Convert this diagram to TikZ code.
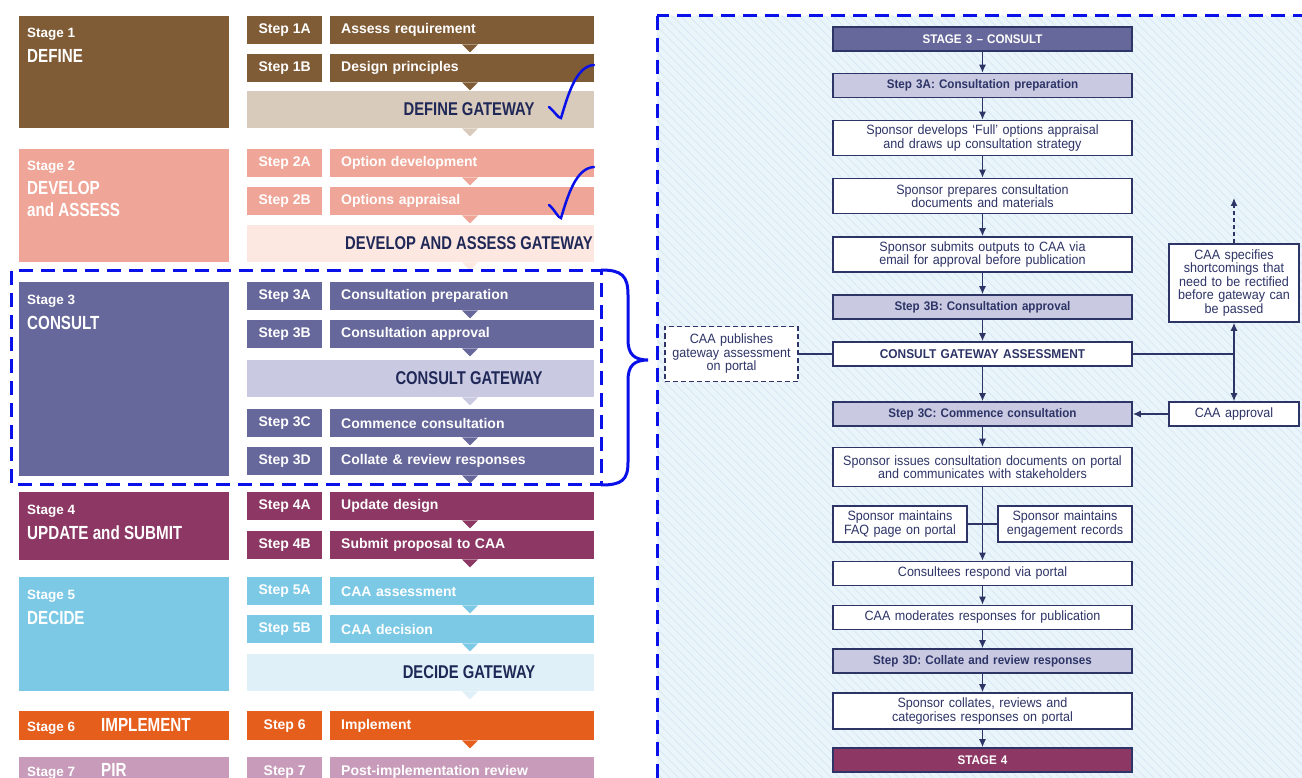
\documentclass[tikz,border=0pt]{standalone}
\usepackage{fontspec}
\setmainfont{Liberation Sans}
\newfontfamily\headfont[FakeStretch=0.8]{Liberation Sans}
\newfontfamily\panelfont[FakeStretch=0.93]{Liberation Sans}
\usetikzlibrary{shapes,arrows.meta,patterns.meta}

\definecolor{defbrown}{HTML}{7F5B36}
\definecolor{defgate}{HTML}{D9CBBC}
\definecolor{devpink}{HTML}{EFA597}
\definecolor{devgate}{HTML}{FCE7E1}
\definecolor{conpurple}{HTML}{66679A}
\definecolor{congate}{HTML}{C9CAE2}
\definecolor{updplum}{HTML}{8D3864}
\definecolor{decsky}{HTML}{7CC9E6}
\definecolor{decgate}{HTML}{DFF0F8}
\definecolor{imporange}{HTML}{E65E1B}
\definecolor{pirmauve}{HTML}{C79BB9}
\definecolor{gatenavy}{HTML}{1F2857}
\definecolor{linenavy}{HTML}{2D3466}
\definecolor{markblue}{HTML}{0A10E8}
\definecolor{panelbg}{HTML}{EAF4FB}
\definecolor{hatch}{HTML}{D6E7F3}

\tikzstyle{stage} = [rectangle, anchor=north west, minimum width=210, inner sep=0pt]
\tikzstyle{stagenum} = [anchor=base west, inner sep=0pt, text=white,
font=\fontsize{13.5}{15}\selectfont\bfseries]
\tikzstyle{stagename} = [anchor=base west, inner sep=0pt, text=white, align=left,
font=\headfont\fontsize{19}{22}\selectfont\bfseries]
\tikzstyle{steplbl} = [rectangle, anchor=north west, minimum width=75, minimum height=28,
inner sep=0pt, text=white, font=\fontsize{14}{16}\selectfont\bfseries]
\tikzstyle{steptxt} = [rectangle, anchor=north west, minimum width=264, minimum height=28,
inner xsep=11, inner ysep=0pt, text width=242, align=left, text=white,
font=\fontsize{14}{16}\selectfont\bfseries]
\tikzstyle{gateway} = [rectangle, anchor=north west, minimum width=347, minimum height=37, inner sep=0pt]
\tikzstyle{gatetxt} = [inner sep=0pt, text=gatenavy, font=\headfont\fontsize{18.5}{22}\selectfont\bfseries]
\tikzstyle{panelbox} = [rectangle, draw=linenavy, line width=1.6, fill=white, text=linenavy,
text width=295, inner xsep=2, inner ysep=2, align=center, minimum height=24,
font=\panelfont\fontsize{13.5}{13.5}\selectfont]
\tikzstyle{stepbox} = [panelbox, fill=congate, font=\panelfont\fontsize{12.5}{13.5}\selectfont\bfseries]
\tikzstyle{stagebox} = [panelbox, fill=conpurple, text=white, font=\panelfont\fontsize{12.5}{13.5}\selectfont\bfseries]
\tikzstyle{line} = [draw=linenavy, line width=1.3, -{Latex[length=8pt,width=7pt]}]
\tikzstyle{plain} = [draw=linenavy, line width=1.3]

\newcommand{\steptip}[2]{\fill[#2] (#1.south -| tipx) ++(-8,0) -- ++(16,0) -- ++(-8,8) -- cycle;}

\begin{document}
\begin{tikzpicture}[x=1pt, y=-1pt]
\clip (0,0) rectangle (1302,778);
\fill [white] (0,0) rectangle (1302,778);
\coordinate (tipx) at (470,0);

% Stage 1
\node [stage, fill=defbrown, minimum height=112] (stage1) at (19,16) {};
\node [stagenum] (stage1n) at (27,38) {Stage 1};
\node [stagename] (stage1m) at (27,63) {DEFINE};
\node [steplbl, fill=defbrown] (step1a) at (247,16) {Step 1A};
\node [steptxt, fill=defbrown] (task1a) at (330,16) {Assess requirement};
\node [steplbl, fill=defbrown] (step1b) at (247,54) {Step 1B};
\node [steptxt, fill=defbrown] (task1b) at (330,54) {Design principles};
\node [gateway, fill=defgate] (gate1) at (247,91) {};
\node [gatetxt] (gate1t) at (469,109.5) {DEFINE GATEWAY};
\steptip{task1a}{defbrown}
\steptip{task1b}{defbrown}
\steptip{gate1}{defgate}

% Stage 2
\node [stage, fill=devpink, minimum height=113] (stage2) at (19,149) {};
\node [stagenum] (stage2n) at (27,171) {Stage 2};
\node [stagename] (stage2m) at (27,217) {DEVELOP\\and ASSESS};
\node [steplbl, fill=devpink] (step2a) at (247,149) {Step 2A};
\node [steptxt, fill=devpink] (task2a) at (330,149) {Option development};
\node [steplbl, fill=devpink] (step2b) at (247,187) {Step 2B};
\node [steptxt, fill=devpink] (task2b) at (330,187) {Options appraisal};
\node [gateway, fill=devgate] (gate2) at (247,225) {};
\node [gatetxt] (gate2t) at (469,243.5) {DEVELOP AND ASSESS GATEWAY};
\steptip{task2a}{devpink}
\steptip{task2b}{devpink}
\steptip{gate2}{devgate}

% Stage 3
\node [stage, fill=conpurple, minimum height=194] (stage3) at (19,282) {};
\node [stagenum] (stage3n) at (27,305) {Stage 3};
\node [stagename] (stage3m) at (27,329) {CONSULT};
\node [steplbl, fill=conpurple] (step3a) at (247,282) {Step 3A};
\node [steptxt, fill=conpurple] (task3a) at (330,282) {Consultation preparation};
\node [steplbl, fill=conpurple] (step3b) at (247,320) {Step 3B};
\node [steptxt, fill=conpurple] (task3b) at (330,320) {Consultation approval};
\node [gateway, fill=congate] (gate3) at (247,360) {};
\node [gatetxt] (gate3t) at (469,378.5) {CONSULT GATEWAY};
\node [steplbl, fill=conpurple] (step3c) at (247,409) {Step 3C};
\node [steptxt, fill=conpurple] (task3c) at (330,409) {Commence consultation};
\node [steplbl, fill=conpurple] (step3d) at (247,447) {Step 3D};
\node [steptxt, fill=conpurple] (task3d) at (330,447) {Collate \& review responses};
\steptip{task3a}{conpurple}
\steptip{task3b}{conpurple}
\steptip{gate3}{congate}
\steptip{task3c}{conpurple}
\steptip{task3d}{conpurple}

% Stage 4
\node [stage, fill=updplum, minimum height=68] (stage4) at (19,492) {};
\node [stagenum] (stage4n) at (27,514) {Stage 4};
\node [stagename] (stage4m) at (27,539) {UPDATE and SUBMIT};
\node [steplbl, fill=updplum] (step4a) at (247,492) {Step 4A};
\node [steptxt, fill=updplum] (task4a) at (330,492) {Update design};
\node [steplbl, fill=updplum] (step4b) at (247,531) {Step 4B};
\node [steptxt, fill=updplum] (task4b) at (330,531) {Submit proposal to CAA};
\steptip{task4a}{updplum}
\steptip{task4b}{updplum}

% Stage 5
\node [stage, fill=decsky, minimum height=114] (stage5) at (19,577) {};
\node [stagenum] (stage5n) at (27,599) {Stage 5};
\node [stagename] (stage5m) at (27,624) {DECIDE};
\node [steplbl, fill=decsky] (step5a) at (247,577) {Step 5A};
\node [steptxt, fill=decsky] (task5a) at (330,577) {CAA assessment};
\node [steplbl, fill=decsky] (step5b) at (247,615) {Step 5B};
\node [steptxt, fill=decsky] (task5b) at (330,615) {CAA decision};
\node [gateway, fill=decgate] (gate5) at (247,654) {};
\node [gatetxt] (gate5t) at (469,672.5) {DECIDE GATEWAY};
\steptip{task5a}{decsky}
\steptip{task5b}{decsky}
\steptip{gate5}{decgate}

% Stage 6 and 7
\node [stage, fill=imporange, minimum height=29] (stage6) at (19,711) {};
\node [stagenum] (stage6n) at (27,731) {Stage 6};
\node [stagename] (stage6m) at (101,731) {IMPLEMENT};
\node [steplbl, fill=imporange, minimum height=29] (step6) at (247,711) {Step 6};
\node [steptxt, fill=imporange, minimum height=29] (task6) at (330,711) {Implement};
\steptip{task6}{imporange}
\node [stage, fill=pirmauve, minimum height=29] (stage7) at (19,757) {};
\node [stagenum] (stage7n) at (27,776) {Stage 7};
\node [stagename] (stage7m) at (101,776) {PIR};
\node [steplbl, fill=pirmauve, minimum height=29] (step7) at (247,757) {Step 7};
\node [steptxt, fill=pirmauve, minimum height=29] (task7) at (330,757) {Post-implementation review};

% Marks
\draw [markblue, line width=2.5, line cap=round] (549,107) .. controls (555,112) and (558,118) .. (561,118)
  .. controls (568,95) and (576,66) .. (594,65);
\draw [markblue, line width=2.5, line cap=round] (549,205) .. controls (555,210) and (558,218) .. (561,218)
  .. controls (568,195) and (576,168) .. (594,167);
\draw [markblue, line width=3, dash pattern=on 14pt off 8pt] (11,271) rectangle (601,484);
\draw [markblue, line width=3] (601,270) .. controls (622,270) and (628,276) .. (628,295) -- (628,340)
  .. controls (628,354) and (634,360) .. (648,360) .. controls (634,360) and (628,366) .. (628,380)
  -- (628,462) .. controls (628,480) and (622,485) .. (601,485);

% Consult panel
\fill [panelbg] (657,16) rectangle (1310,790);
\fill [pattern={Lines[angle=-45,distance=6pt,line width=0.7pt]}, pattern color=hatch] (657,16) rectangle (1310,790);
\draw [markblue, line width=3, dash pattern=on 14pt off 8pt] (657,16) rectangle (1320,800);

% Place nodes
\node [stagebox] (st3) at (982.5,39) {STAGE 3 – CONSULT};
\node [stepbox, node distance=46.5pt, below of=st3] (s3a) {Step 3A: Consultation preparation};
\node [panelbox, minimum height=35, node distance=52.5pt, below of=s3a] (dev) {Sponsor develops ‘Full’ options appraisal\\and draws up consultation strategy};
\node [panelbox, minimum height=35, node distance=58pt, below of=dev] (prep) {Sponsor prepares consultation\\documents and materials};
\node [panelbox, minimum height=35, node distance=58.5pt, below of=prep] (subm) {Sponsor submits outputs to CAA via\\email for approval before publication};
\node [stepbox, node distance=52.5pt, below of=subm] (s3b) {Step 3B: Consultation approval};
\node [panelbox, font=\panelfont\fontsize{12.8}{13.5}\selectfont\bfseries, node distance=47pt, below of=s3b] (gate) {CONSULT GATEWAY ASSESSMENT};
\node [stepbox, node distance=60pt, below of=gate] (s3c) {Step 3C: Commence consultation};
\node [panelbox, minimum height=39, node distance=53pt, below of=s3c] (issue) {Sponsor issues consultation documents on portal\\and communicates with stakeholders};
\node [panelbox, text width=130, minimum height=36, node distance=57pt, below of=issue, xshift=-82.5pt] (faq) {Sponsor maintains\\FAQ page on portal};
\node [panelbox, text width=130, minimum height=36, node distance=57pt, below of=issue, xshift=82.5pt] (eng) {Sponsor maintains\\engagement records};
\node [panelbox, node distance=106.5pt, below of=issue] (resp) {Consultees respond via portal};
\node [panelbox, node distance=44pt, below of=resp] (mod) {CAA moderates responses for publication};
\node [stepbox, node distance=43.5pt, below of=mod] (s3d) {Step 3D: Collate and review responses};
\node [panelbox, minimum height=36, node distance=50pt, below of=s3d] (coll) {Sponsor collates, reviews and\\categorises responses on portal};
\node [stagebox, fill=updplum, node distance=49pt, below of=coll] (st4) {STAGE 4};
\node [panelbox, dash pattern=on 5pt off 3pt, text width=129, minimum height=55, node distance=251pt, left of=gate] (pub) {CAA publishes\\gateway assessment\\on portal};
\node [panelbox, text width=126, minimum height=78, node distance=251.5pt, right of=subm, yshift=-28.5pt] (spec) {CAA specifies\\shortcomings that\\need to be rectified\\before gateway can\\be passed};
\node [panelbox, text width=126, node distance=251.5pt, right of=s3c] (appr) {CAA approval};
\coordinate [node distance=85pt, above of=spec] (back);

% Draw edges
\path [line] (st3) -- (s3a);
\path [line] (s3a) -- (dev);
\path [line] (dev) -- (prep);
\path [line] (prep) -- (subm);
\path [line] (subm) -- (s3b);
\path [line] (s3b) -- (gate);
\path [line] (gate) -- (s3c);
\path [line] (s3c) -- (issue);
\path [line] (issue) -- (resp);
\path [line] (resp) -- (mod);
\path [line] (mod) -- (s3d);
\path [line] (s3d) -- (coll);
\path [line] (coll) -- (st4);
\path [plain] (faq) -- (eng);
\path [plain] (gate) -- (pub);
\path [plain] (gate.east) -- (gate -| spec);
\path [line] (gate -| spec) -- (spec);
\path [line] (gate -| spec) -- (appr);
\path [line] (appr) -- (s3c);
\path [line, dash pattern=on 4pt off 3pt] (spec) -- (back);
\end{tikzpicture}
\end{document}
